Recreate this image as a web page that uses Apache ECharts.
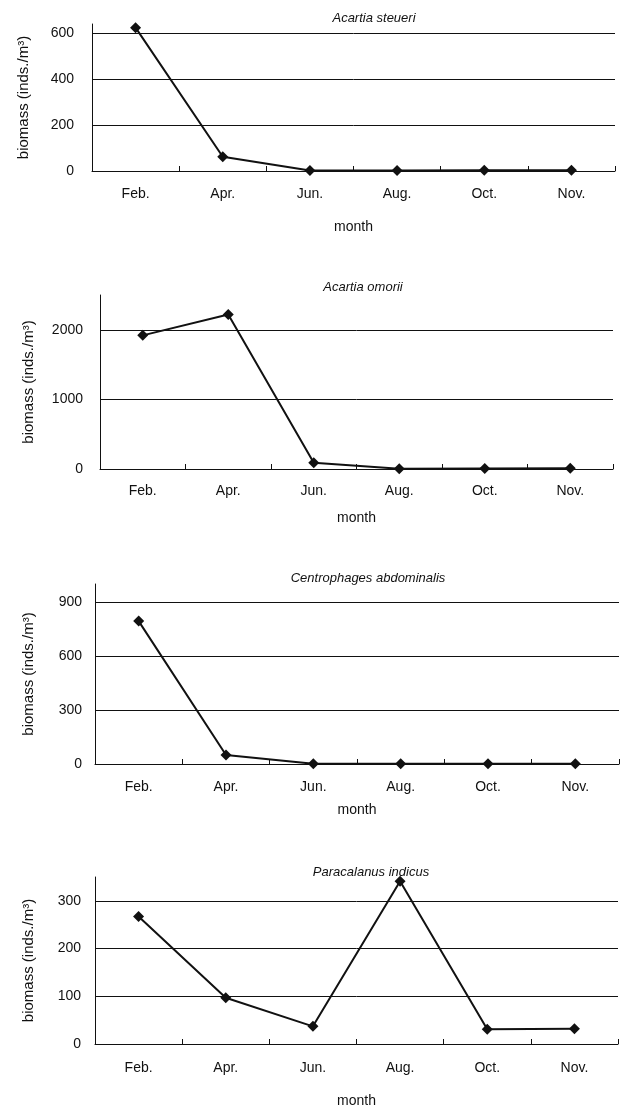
<!DOCTYPE html>
<html>
<head>
<meta charset="utf-8">
<script src="https://cdn.jsdelivr.net/npm/echarts@6/dist/echarts.min.js"></script>
<style>
  html, body { margin: 0; padding: 0; background: #fff; }
  #main { width: 622px; height: 1109px; }
</style>
</head>
<body>
<div id="main"></div>
<script>
// data
var months = ['Feb.', 'Apr.', 'Jun.', 'Aug.', 'Oct.', 'Nov.'];
var species = ['Acartia steueri', 'Acartia omorii', 'Centrophages abdominalis', 'Paracalanus indicus'];
var steueri = [624, 62, 2, 2, 3, 3];
var omorii = [1920, 2220, 90, 5, 8, 10];
var abdominalis = [794, 50, 2, 2, 2, 2];
var indicus = [267, 97, 37, 341, 31, 32];
var yMax = [640, 2500, 1000, 350];
var yStep = [200, 1000, 300, 100];

var seriesData = [steueri, omorii, abdominalis, indicus];

// layout of each panel (px)
var panels = [
  { left: 92, right: 7, top: 24, height: 147, titleX: 374, titleY: 12, labelGap: 16, monthGap: 49, yLabelGap: 18, yNameGap: 61 },
  { left: 100, right: 9, top: 295, height: 174, titleX: 363, titleY: 281, labelGap: 15, monthGap: 42, yLabelGap: 17, yNameGap: 64 },
  { left: 95, right: 3, top: 584, height: 180, titleX: 368, titleY: 572, labelGap: 16, monthGap: 39, yLabelGap: 13, yNameGap: 59 },
  { left: 95, right: 4, top: 877, height: 178, titleX: 371, titleY: 866, labelGap: 17, monthGap: 50, yLabelGap: 14, yNameGap: 59 }
];

var font = 'Liberation Sans, Arial, sans-serif';
var ink = '#111';

var option = { backgroundColor: '#fff', title: [], grid: [], xAxis: [], yAxis: [], series: [] };

for (var i = 0; i < panels.length; i++) {
  var p = panels[i];
  option.title.push({
    text: species[i],
    left: p.titleX,
    top: p.titleY,
    padding: 0,
    textAlign: 'center',
    textStyle: { fontFamily: font, fontSize: 13, fontStyle: 'italic', fontWeight: 'normal', color: ink }
  });
  option.grid.push({ left: p.left, right: p.right, top: p.top, height: p.height, containLabel: false });
  option.xAxis.push({
    type: 'category',
    gridIndex: i,
    data: months,
    name: 'month',
    nameLocation: 'middle',
    nameGap: p.monthGap,
    nameTextStyle: { fontFamily: font, fontSize: 14, color: ink },
    axisLine: { show: true, lineStyle: { color: ink, width: 1 } },
    axisTick: { show: true, inside: true, length: 5, lineStyle: { color: ink } },
    axisLabel: { margin: p.labelGap, fontFamily: font, fontSize: 14, color: ink }
  });
  option.yAxis.push({
    type: 'value',
    gridIndex: i,
    min: 0,
    max: yMax[i],
    interval: yStep[i],
    name: 'biomass (inds./m³)',
    nameLocation: 'middle',
    nameRotate: 90,
    nameGap: p.yNameGap,
    nameTextStyle: { fontFamily: font, fontSize: 15, color: ink },
    axisLine: { show: true, lineStyle: { color: ink, width: 1 } },
    axisTick: { show: false },
    axisLabel: {
      margin: p.yLabelGap, fontFamily: font, fontSize: 14, color: ink, showMaxLabel: false,
      formatter: function (v) { return String(v); }
    },
    splitLine: { show: true, showMaxLine: false, lineStyle: { color: ink, width: 1 } }
  });
  option.series.push({
    type: 'line',
    xAxisIndex: i,
    yAxisIndex: i,
    data: seriesData[i],
    symbol: 'diamond',
    symbolSize: 11,
    lineStyle: { color: ink, width: 2 },
    itemStyle: { color: ink },
    animation: false
  });
}

var myChart = echarts.init(document.getElementById('main'));
myChart.setOption(option);
</script>
</body>
</html>
